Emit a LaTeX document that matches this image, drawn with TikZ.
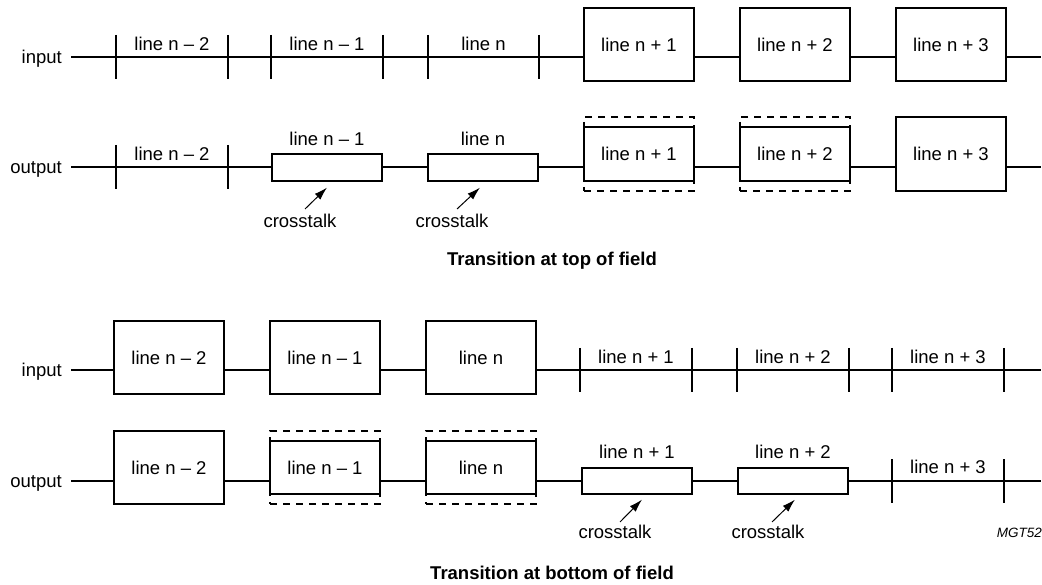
\documentclass[tikz,border=0pt]{standalone}
\usepackage{fontspec}
\setmainfont{Liberation Sans}
\usetikzlibrary{arrows.meta,calc}
\begin{document}
\begin{tikzpicture}[x=1pt,y=-1pt,
  lbl/.style={font=\fontsize{18.5}{22}\selectfont, inner sep=0pt, text height=13.5pt, text depth=0pt},
  ttl/.style={font=\fontsize{18.5}{22}\selectfont\bfseries, inner sep=0pt, text height=13.5pt, text depth=0pt},
  wire/.style={line width=1.8pt},
  tickmark/.style={line width=1.5pt},
  bigbox/.style={draw, line width=1.2pt, fill=white, minimum width=110pt, minimum height=73pt, inner sep=0pt, lbl},
  midbox/.style={draw, line width=1.2pt, fill=white, minimum width=110pt, minimum height=54pt, inner sep=0pt, lbl},
  flatbox/.style={draw, line width=1.2pt, fill=white, minimum width=110pt, minimum height=27pt, inner sep=0pt},
  dashbox/.style={draw, line width=1.2pt, dash pattern=on 7pt off 6pt, minimum width=110pt, minimum height=74pt, inner sep=0pt},
  arr/.style={line width=1pt, -{Latex[length=13pt,width=8pt]}}
]
\useasboundingbox (0,0) rectangle (1042,585);
\fill[white] (0,0) rectangle (1042,585);

% ---------------- Top: input ----------------
\node[lbl, anchor=east] (inA) at (62,57) {input};
\coordinate (ia0) at (71,57);
\coordinate (iaE) at (1041,57);
\node[bigbox] (ba1) at (639,44.5) {line n + 1};
\node[bigbox] (ba2) at (795,44.5) {line n + 2};
\node[bigbox] (ba3) at (951,44.5) {line n + 3};
\draw[wire] (ia0) -- (ba1.west|-ia0) (ba1.east|-ia0) -- (ba2.west|-ia0)
            (ba2.east|-ia0) -- (ba3.west|-ia0) (ba3.east|-ia0) -- (iaE);
\foreach \x [count=\i] in {116,228,271,383,428,539}{
  \coordinate (ta\i) at (\x,57);
  \draw[tickmark] ($(ta\i)+(0,-22)$) -- ($(ta\i)+(0,22)$);
}
\node[lbl] (la1) at (172,44) {line n – 2};
\node[lbl] (la2) at (327,44) {line n – 1};
\node[lbl] (la3) at (483.5,44) {line n};

% ---------------- Top: output ----------------
\node[lbl, anchor=east] (outA) at (62,167) {output};
\coordinate (oa0) at (71,167);
\coordinate (oaE) at (1041,167);
\node[flatbox] (fa1) at (327,167.5) {};
\node[flatbox] (fa2) at (483,167.5) {};
\node[dashbox] (da1) at (639,154) {};
\node[dashbox] (da2) at (795,154) {};
\node[midbox] (sa1) at (639,154) {line n + 1};
\node[midbox] (sa2) at (795,154) {line n + 2};
\node[bigbox, minimum height=74pt] (bo3) at (951,154) {line n + 3};
\draw[wire] (oa0) -- (fa1.west|-oa0) (fa1.east|-oa0) -- (fa2.west|-oa0)
            (fa2.east|-oa0) -- (sa1.west|-oa0) (sa1.east|-oa0) -- (sa2.west|-oa0)
            (sa2.east|-oa0) -- (bo3.west|-oa0) (bo3.east|-oa0) -- (oaE);
\foreach \x [count=\i] in {116,228}{
  \coordinate (tb\i) at (\x,167);
  \draw[tickmark] ($(tb\i)+(0,-22)$) -- ($(tb\i)+(0,22)$);
}
\node[lbl] (lb1) at (172,154) {line n – 2};
\node[lbl] (lb2) at (327,139) {line n – 1};
\node[lbl] (lb3) at (483,139) {line n};
\node[lbl] (c1) at (300,221) {crosstalk};
\node[lbl] (c2) at (452,221) {crosstalk};
\draw[arr] ($(c1)+(5,-12)$) -- ($(fa1.south)+(0,6)$);
\draw[arr] ($(c2)+(5,-12)$) -- ($(fa2.south)+(-3,6)$);
\node[ttl] (t1) at (552,259) {Transition at top of field};

% ---------------- Bottom: input ----------------
\node[lbl, anchor=east] (inB) at (62,370) {input};
\coordinate (ib0) at (71,370);
\coordinate (ibE) at (1041,370);
\node[bigbox] (bb1) at (169,357.5) {line n – 2};
\node[bigbox] (bb2) at (325,357.5) {line n – 1};
\node[bigbox] (bb3) at (481,357.5) {line n};
\draw[wire] (ib0) -- (bb1.west|-ib0) (bb1.east|-ib0) -- (bb2.west|-ib0)
            (bb2.east|-ib0) -- (bb3.west|-ib0) (bb3.east|-ib0) -- (ibE);
\foreach \x [count=\i] in {580,692,737,849,892,1004}{
  \coordinate (tc\i) at (\x,370);
  \draw[tickmark] ($(tc\i)+(0,-22)$) -- ($(tc\i)+(0,22)$);
}
\node[lbl] (lc1) at (636,357) {line n + 1};
\node[lbl] (lc2) at (793,357) {line n + 2};
\node[lbl] (lc3) at (948,357) {line n + 3};

% ---------------- Bottom: output ----------------
\node[lbl, anchor=east] (outB) at (62,481) {output};
\coordinate (ob0) at (71,481);
\coordinate (obE) at (1041,481);
\node[bigbox] (bo1) at (169,467.5) {line n – 2};
\node[dashbox, minimum height=73pt] (dd1) at (325,467.5) {};
\node[dashbox, minimum height=73pt] (dd2) at (481,467.5) {};
\node[midbox, minimum height=53pt] (sd1) at (325,467.5) {line n – 1};
\node[midbox, minimum height=53pt] (sd2) at (481,467.5) {line n};
\node[flatbox, minimum height=26pt] (fb1) at (637,481) {};
\node[flatbox, minimum height=26pt] (fb2) at (793,481) {};
\draw[wire] (ob0) -- (bo1.west|-ob0) (bo1.east|-ob0) -- (sd1.west|-ob0)
            (sd1.east|-ob0) -- (sd2.west|-ob0) (sd2.east|-ob0) -- (fb1.west|-ob0)
            (fb1.east|-ob0) -- (fb2.west|-ob0) (fb2.east|-ob0) -- (obE);
\foreach \x [count=\i] in {892,1004}{
  \coordinate (td\i) at (\x,481);
  \draw[tickmark] ($(td\i)+(0,-22)$) -- ($(td\i)+(0,22)$);
}
\node[lbl] (ld1) at (637,452) {line n + 1};
\node[lbl] (ld2) at (793,452) {line n + 2};
\node[lbl] (ld3) at (948,467) {line n + 3};
\node[lbl] (c3) at (615,532) {crosstalk};
\node[lbl] (c4) at (768,532) {crosstalk};
\draw[arr] ($(c3)+(5,-10)$) -- ($(fb1.south)+(5,5)$);
\draw[arr] ($(c4)+(4,-10)$) -- ($(fb2.south)+(2,5)$);
\node[font=\fontsize{13.5}{16}\selectfont\itshape, inner sep=0pt, anchor=east] (mgt) at (1042,533) {MGT52};
\node[ttl] (t2) at (552,573) {Transition at bottom of field};
\end{tikzpicture}
\end{document}
